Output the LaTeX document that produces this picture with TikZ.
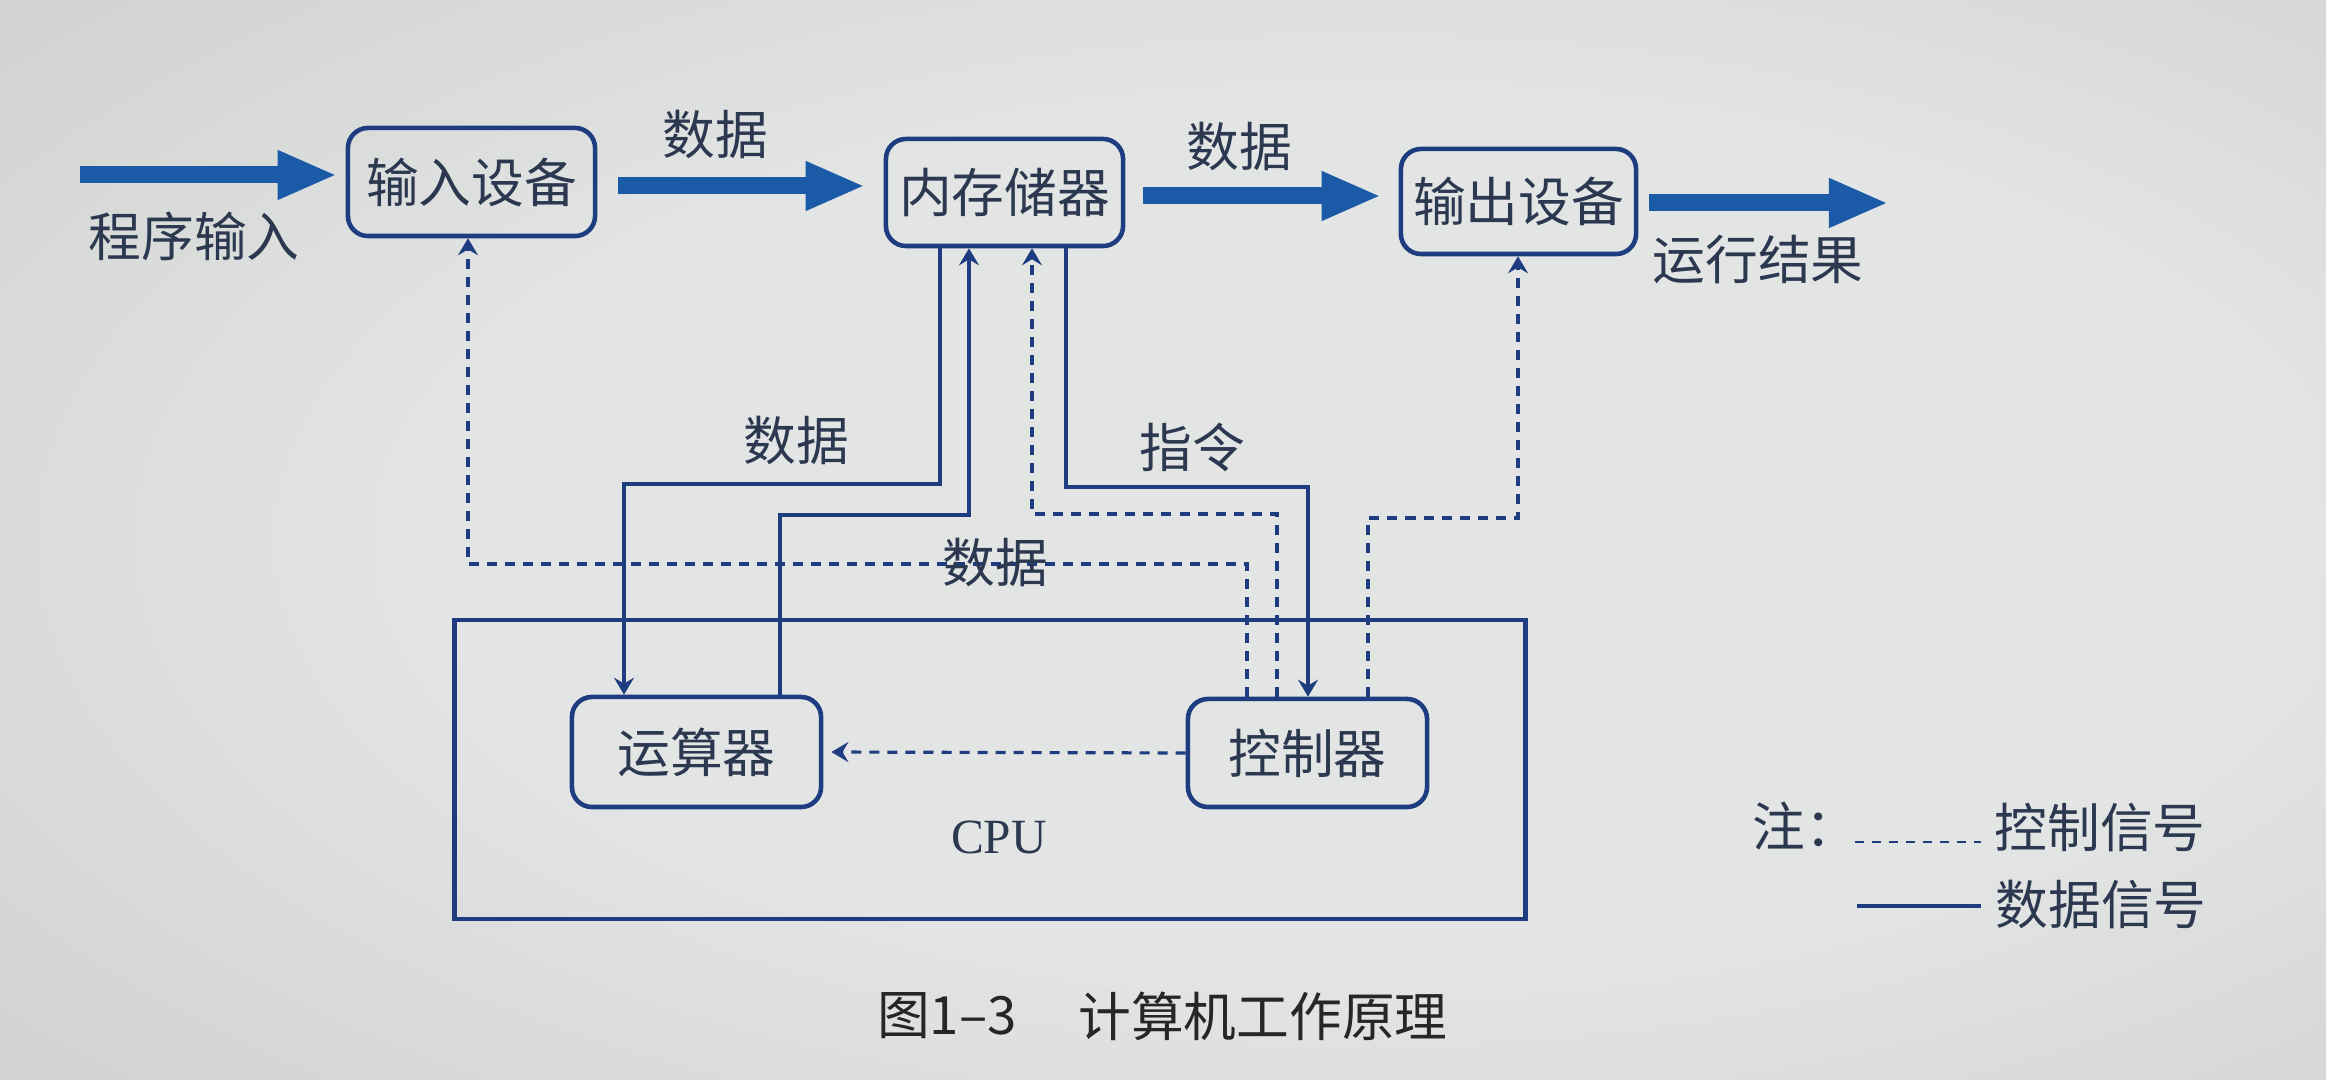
\documentclass[tikz,border=0pt]{standalone}
\usepackage{fontspec}
\setmainfont{Liberation Serif}
\newfontfamily\cjk{Noto Sans CJK SC}
\usetikzlibrary{arrows.meta,calc}

\definecolor{bgin}{HTML}{E2E5E4}
\definecolor{bgout}{HTML}{BBBDB7}
\definecolor{linec}{HTML}{1D3D80}
\definecolor{arrowc}{HTML}{1A5AA6}
\definecolor{txtc}{HTML}{2C3850}

\pgfdeclareradialshading{paper}{\pgfpoint{6bp}{0bp}}{color(0bp)=(bgin); color(20bp)=(bgin); color(58bp)=(bgout); color(80bp)=(bgout)}

\begin{document}
\begin{tikzpicture}[x=0.01cm, y=-0.01cm,
  dbox/.style={draw=linec, line width=1.3pt, rounded corners=0.2cm, inner sep=0pt,
    font=\cjk\fontsize{15}{18}\selectfont, text=txtc},
  lbl/.style={font=\cjk\fontsize{15}{18}\selectfont, text=txtc, inner sep=0pt},
  fat/.style={arrowc, line width=0.17cm,
    -{Triangle[length=0.57cm, width=0.50cm, line width=0.3pt]}},
  datline/.style={linec, line width=0.9pt},
  ctlline/.style={linec, line width=0.9pt, dash pattern=on 0.1cm off 0.08cm},
  headtip/.style={-{Stealth[length=0.17cm, width=0.2cm, inset=0.06cm]}}
]
% background
\useasboundingbox (0,0) rectangle (2326,1080);
\shade[shading=paper] (0,0) rectangle (2326,1080);

% top row boxes
\node[dbox, minimum width=2.47cm, minimum height=1.08cm] (inp) at (471.5,182) {输入设备};
\node[dbox, minimum width=2.37cm, minimum height=1.07cm] (mem) at (1004.5,192.5) {内存储器};
\node[dbox, minimum width=2.35cm, minimum height=1.05cm] (out) at (1518.5,201.5) {输出设备};

% CPU
\node[draw=linec, line width=1.3pt, minimum width=10.70cm, minimum height=2.99cm, inner sep=0pt] (cpu) at (990,769.5) {};
\node[font=\fontsize{14}{16}\selectfont, text=txtc, inner sep=0pt] (cpulbl) at (999,837) {CPU};
\node[dbox, minimum width=2.49cm, minimum height=1.10cm] (alu) at (696.5,752) {运算器};
\node[dbox, minimum width=2.39cm, minimum height=1.08cm] (ctl) at (1307.5,753) {控制器};

% thick arrows (horizontal)
\coordinate (src) at (80,175);
\coordinate (k2) at (0,186);
\coordinate (k3) at (0,196);
\coordinate (res) at (1886,203);
\draw[fat, shorten >=0.11cm] (src) -- (src -| inp.west);
\draw[fat, shorten <=0.21cm, shorten >=0.21cm] (inp.east |- k2) -- (mem.west |- k2);
\draw[fat, shorten <=0.18cm, shorten >=0.20cm] (mem.east |- k3) -- (out.west |- k3);
\draw[fat, shorten <=0.11cm] (out.east |- res) -- (res);

% labels top row
\node[lbl] (l1) at (194,236) {程序输入};
\node[lbl] (l2) at (715,135) {数据};
\node[lbl] (l3) at (1239,147) {数据};
\node[lbl] (l4) at (1758,260) {运行结果};

% bend coordinates
\coordinate (a1) at (624,484);
\coordinate (b1) at (969,515);
\coordinate (c1) at (1032,514);
\coordinate (d1) at (1308,487);
\coordinate (e1) at (1518,518);
\coordinate (f1) at (468,564);

% data lines
\draw[datline, headtip] ([xshift=-0.645cm]mem.south) |- (a1) -- (a1 |- alu.north);
\draw[datline, headtip] ([xshift=0.835cm]alu.north) |- (b1) -- (b1 |- mem.south);
\draw[datline, headtip] ([xshift=0.615cm]mem.south) |- (d1) -- (d1 |- ctl.north);

% control lines
\draw[ctlline, headtip] ([xshift=-0.305cm]ctl.north) |- (c1) -- (c1 |- mem.south);
\draw[ctlline, headtip] ([xshift=0.605cm]ctl.north) |- (e1) -- (e1 |- out.south);
\draw[ctlline, headtip] ([xshift=-0.605cm]ctl.north) |- (f1) -- (f1 |- inp.south);
\draw[ctlline, headtip, shorten >=0.08cm] (ctl.west) -- (alu.east);

% middle labels
\node[lbl] (l5) at (796,441) {数据};
\node[lbl] (l6) at (1192,447) {指令};
\node[lbl] (l7) at (995,563) {数据};

% legend
\node[lbl, anchor=west] (note) at (1752,826) {注：};
\coordinate (g1) at (1855,842);
\coordinate (g2) at (1981,842);
\draw[ctlline, line width=0.7pt, dash pattern=on 0.09cm off 0.08cm] (g1) -- (g2);
\node[lbl] (lgc) at (2100,828) {控制信号};
\coordinate (g3) at (1857,906);
\coordinate (g4) at (1981,906);
\draw[datline, line width=1.3pt] (g3) -- (g4);
\node[lbl] (lgd) at (2101,905) {数据信号};

% caption
\node[lbl, text=black!85] (cap1) at (947,1016) {图1–3};
\node[lbl, text=black!85] (cap2) at (1263,1016) {计算机工作原理};
\end{tikzpicture}
\end{document}
